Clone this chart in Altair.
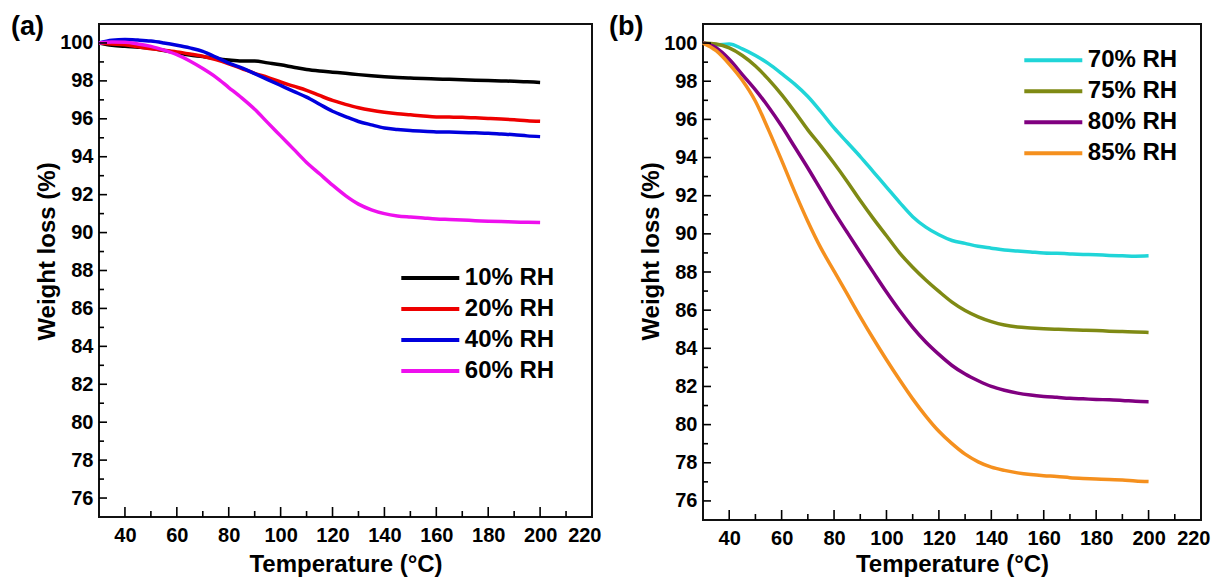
import altair as alt
import pandas as pd

FONT = "Liberation Sans"

# Temperature grid (deg C)
temps = [30, 35, 40, 45, 50, 55, 60, 65, 70, 75, 80, 85, 90, 95, 100, 105, 110, 115,
         120, 125, 130, 135, 140, 145, 150, 155, 160, 165, 170, 175, 180, 185, 190, 195, 200]

# Panel (a) series, weight (%)
rh10 = [100.0, 99.88, 99.82, 99.78, 99.72, 99.6, 99.48, 99.36, 99.28, 99.18, 99.1, 99.05,
        99.05, 98.95, 98.85, 98.72, 98.6, 98.52, 98.46, 98.4, 98.33, 98.27, 98.22, 98.18,
        98.15, 98.12, 98.1, 98.08, 98.06, 98.04, 98.02, 98.0, 97.98, 97.95, 97.92]
rh20 = [100.0, 99.95, 99.9, 99.8, 99.7, 99.62, 99.53, 99.42, 99.3, 99.12, 98.9, 98.65,
        98.4, 98.18, 97.94, 97.72, 97.5, 97.23, 96.97, 96.76, 96.58, 96.45, 96.35, 96.27,
        96.21, 96.15, 96.1, 96.09, 96.08, 96.05, 96.02, 95.99, 95.95, 95.9, 95.87]
rh40 = [100.0, 100.14, 100.18, 100.15, 100.1, 100.0, 99.88, 99.74, 99.56, 99.25, 98.94, 98.68,
        98.38, 98.07, 97.76, 97.45, 97.14, 96.77, 96.4, 96.12, 95.86, 95.68, 95.52, 95.44,
        95.38, 95.34, 95.31, 95.3, 95.28, 95.26, 95.24, 95.2, 95.16, 95.1, 95.06]
rh60 = [100.0, 100.05, 100.04, 99.95, 99.82, 99.62, 99.38, 99.05, 98.65, 98.2, 97.65, 97.1,
        96.5, 95.8, 95.1, 94.4, 93.7, 93.1, 92.5, 91.95, 91.5, 91.2, 91.0, 90.88,
        90.82, 90.77, 90.72, 90.69, 90.66, 90.63, 90.6, 90.58, 90.56, 90.54, 90.53]

# Panel (b) series, weight (%)
rh70 = [100.0, 99.9, 99.95, 99.7, 99.35, 98.92, 98.4, 97.85, 97.2, 96.4, 95.55, 94.8,
        94.05, 93.25, 92.45, 91.65, 90.9, 90.35, 89.95, 89.65, 89.5, 89.35, 89.25, 89.15,
        89.1, 89.05, 89.0, 88.98, 88.95, 88.92, 88.9, 88.87, 88.85, 88.83, 88.85]
rh75 = [100.0, 99.95, 99.75, 99.35, 98.8, 98.1, 97.3, 96.4, 95.45, 94.6, 93.7, 92.75,
        91.75, 90.8, 89.9, 89.0, 88.25, 87.58, 86.98, 86.42, 85.98, 85.65, 85.4, 85.22,
        85.12, 85.07, 85.03, 85.0, 84.97, 84.95, 84.93, 84.9, 84.88, 84.86, 84.83]
rh80 = [100.0, 99.75, 99.15, 98.35, 97.55, 96.65, 95.65, 94.55, 93.45, 92.3, 91.15, 90.08,
        89.02, 87.98, 86.95, 85.98, 85.1, 84.33, 83.68, 83.1, 82.65, 82.3, 82.0, 81.8,
        81.65, 81.55, 81.48, 81.43, 81.38, 81.35, 81.32, 81.3, 81.27, 81.22, 81.2]
rh85 = [100.0, 99.6, 98.9, 98.05, 96.95, 95.45, 93.85, 92.2, 90.65, 89.25, 88.05, 86.85,
        85.65, 84.5, 83.4, 82.35, 81.35, 80.45, 79.65, 79.0, 78.45, 78.05, 77.77, 77.6,
        77.47, 77.38, 77.32, 77.28, 77.22, 77.18, 77.15, 77.12, 77.1, 77.05, 77.02]

labels_a = ["10% RH", "20% RH", "40% RH", "60% RH"]
colors_a = ["#000000", "#ee0000", "#0000dd", "#ee10ee"]
labels_b = ["70% RH", "75% RH", "80% RH", "85% RH"]
colors_b = ["#20d5d8", "#7f8a14", "#800080", "#f5901e"]

x_labels = [40, 60, 80, 100, 120, 140, 160, 180, 200, 220]
x_major = [40, 60, 80, 100, 120, 140, 160, 180, 200]
x_minor = [50, 70, 90, 110, 130, 150, 170, 190, 210]
y_major = [76, 78, 80, 82, 84, 86, 88, 90, 92, 94, 96, 98, 100]
y_minor = [77, 79, 81, 83, 85, 87, 89, 91, 93, 95, 97, 99]


def panel(tag, series, labels, colors, W, H, leg_x, leg_y, tag_x, title_y):
    rows = []
    for lab, vals in zip(labels, series):
        for t, v in zip(temps, vals):
            rows.append({"T": t, "W": v, "RH": lab})
    df = pd.DataFrame(rows)
    xs = alt.Scale(domain=[30, 220], nice=False, zero=False)
    ys = alt.Scale(domain=[75, 101], nice=False, zero=False)
    x_axis = alt.Axis(values=x_labels, title="Temperature (°C)", labelPadding=8,
                      labelFlush=5, labelFlushOffset=9,
                      titleY=title_y, titleBaseline="middle")
    y_axis = alt.Axis(values=y_major, title="Weight loss (%)", labelPadding=6,
                      labelFlush=False, titleX=-52, titleY=227, titleBaseline="middle",
                      titleAlign="center")

    lines = alt.Chart(df).mark_line(strokeWidth=3.5, interpolate="monotone").encode(
        x=alt.X("T:Q", scale=xs, axis=x_axis),
        y=alt.Y("W:Q", scale=ys, axis=y_axis),
        color=alt.Color("RH:N", sort=labels,
                        scale=alt.Scale(domain=labels, range=colors),
                        legend=alt.Legend(orient="none", legendX=leg_x, legendY=leg_y,
                                          title=None, symbolType="M-2.32,0H2.32",
                                          symbolSize=625, symbolStrokeWidth=4,
                                          symbolOffset=0, labelOffset=20, rowPadding=4,
                                          padding=0, labelFont=FONT, labelFontSize=24,
                                          labelFontWeight="bold", labelColor="black")),
    )

    def xticks(vals, length):
        return alt.Chart(pd.DataFrame({"T": vals})).mark_rule(
            color="black", strokeWidth=1.6).encode(
            x=alt.X("T:Q", scale=xs, axis=x_axis),
            y=alt.value(H), y2=alt.value(H - length))

    def yticks(vals, length):
        return alt.Chart(pd.DataFrame({"W": vals})).mark_rule(
            color="black", strokeWidth=1.6).encode(
            y=alt.Y("W:Q", scale=ys, axis=y_axis),
            x=alt.value(0), x2=alt.value(length))

    tag_text = alt.Chart(pd.DataFrame({"t": [tag]})).mark_text(
        align="left", baseline="top", font=FONT, fontSize=27, fontWeight="bold",
        color="black").encode(text="t:N", x=alt.value(tag_x), y=alt.value(-10))

    return alt.layer(lines, xticks(x_major, 10), xticks(x_minor, 6),
                     yticks(y_major, 8), yticks(y_minor, 5), tag_text).properties(
        width=W, height=H)


pa = panel("(a)", [rh10, rh20, rh40, rh60], labels_a, colors_a, 493, 493,
           316.8, 239.5, -88, 47)
pb = panel("(b)", [rh70, rh75, rh80, rh85], labels_b, colors_b, 498, 496,
           335.8, 21.8, -94, 44)

chart = alt.hconcat(pa, pb, spacing=111, bounds="flush").resolve_scale(
    color="independent").properties(
    padding={"left": 2, "top": 4, "right": 0, "bottom": 0}).configure_view(
    stroke="#111111", strokeWidth=2).configure_axis(
    domain=False, grid=False, ticks=False, labelFont=FONT, labelFontSize=20,
    labelFontWeight="bold", labelColor="black", titleFont=FONT, titleFontSize=24,
    titleFontWeight="bold", titleColor="black")

chart.save("out.html", embed_options={"renderer": "svg", "actions": False})
